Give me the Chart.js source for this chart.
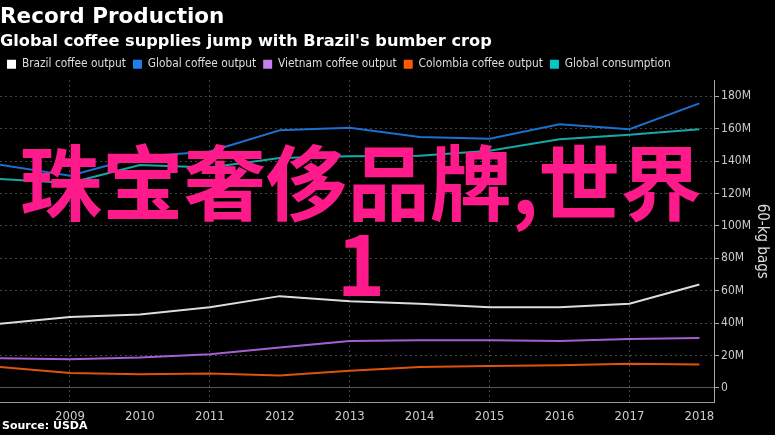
<!DOCTYPE html>
<html>
<head>
<meta charset="utf-8">
<script src="https://cdn.jsdelivr.net/npm/chart.js@4.4.0/dist/chart.umd.min.js"></script>
<style>
  body { margin: 0; background: #000; }
  #wrap { position: relative; width: 775px; height: 435px; overflow: hidden; background: #000; }
  #source { position: absolute; left: 2px; top: 419px; font: bold 11px "DejaVu Sans"; color: #fff; }
  #overlay {
    position: absolute; left: 0; top: 138px; width: 722px;
    text-align: center; color: #ff1a8c; pointer-events: none;
    font: bold 82px/82px "Noto Sans CJK SC";
  }
</style>
</head>
<body>
<div id="wrap">
  <canvas id="grafico" width="775" height="435"></canvas>
  <div id="source">Source: USDA</div>
  <div id="overlay">珠宝奢侈品牌,世界<br>1</div>
</div>
<script>
const anos = [2008, 2009, 2010, 2011, 2012, 2013, 2014, 2015, 2016, 2017, 2018];
const brasil = [39.6, 43.7, 45.2, 49.8, 56.6, 53.4, 51.9, 49.8, 49.8, 51.9, 63.8];
const global = [137.7, 130.9, 142.6, 145.9, 159.0, 160.6, 154.9, 153.7, 162.7, 159.6, 175.6];
const vietna = [18.3, 17.7, 18.7, 20.7, 24.9, 28.9, 29.4, 29.4, 28.9, 30.2, 30.8];
const colombia = [12.9, 9.2, 8.4, 8.8, 7.6, 10.5, 12.9, 13.5, 14.0, 14.8, 14.4];
const consumo = [128.9, 126.4, 137.5, 136.0, 141.8, 143.0, 143.2, 146.3, 153.5, 156.3, 159.6];

const anosTicks = [2009, 2010, 2011, 2012, 2013, 2014, 2015, 2016, 2017, 2018];
const yTicks = [0, 10, 20, 30, 40, 50, 60, 70, 80, 90, 100, 110, 120, 130, 140, 150, 160, 170, 180, 190];

const pontos = (valores) => valores.map((v, i) => ({ x: anos[i], y: v }));

const fonteCond = 'DejaVu Sans Condensed';

const serie = (nome, valores, cor, corLegenda) => ({
  label: nome,
  data: pontos(valores),
  borderColor: cor,
  backgroundColor: corLegenda,
  borderWidth: 2,
  pointRadius: 0,
  tension: 0
});

const ctx = document.getElementById('grafico').getContext('2d');
new Chart(ctx, {
  type: 'line',
  data: {
    datasets: [
      serie('Brazil coffee output', brasil, '#dcdcdc', '#ffffff'),
      serie('Global coffee output', global, '#1c6fcc', '#1e80ea'),
      serie('Vietnam coffee output', vietna, '#a45fd0', '#c77ff0'),
      serie('Colombia coffee output', colombia, '#e0520e', '#ff5a00'),
      serie('Global consumption', consumo, '#16a8a8', '#00c8c8')
    ]
  },
  options: {
    responsive: false,
    animation: false,
    layout: { padding: { left: 0, right: 2, top: 0, bottom: 9 } },
    plugins: {
      title: {
        display: true,
        text: 'Record Production',
        align: 'start',
        color: '#fff',
        font: { family: 'DejaVu Sans', size: 21.5, weight: 'bold' },
        padding: { top: 5, bottom: 1 }
      },
      subtitle: {
        display: true,
        text: "Global coffee supplies jump with Brazil's bumber crop",
        align: 'start',
        color: '#fff',
        font: { family: 'DejaVu Sans', size: 16.2, weight: 'bold' },
        padding: { top: 0, bottom: 0 }
      },
      legend: {
        align: 'start',
        labels: {
          color: '#ddd',
          boxWidth: 9,
          boxHeight: 9,
          padding: 7,
          font: { family: fonteCond, size: 11.8 },
          generateLabels: (chart) => chart.data.datasets.map((d, i) => ({
            text: d.label,
            fillStyle: d.backgroundColor,
            strokeStyle: d.backgroundColor,
            lineWidth: 0,
            fontColor: '#ddd',
            datasetIndex: i,
            hidden: false
          }))
        }
      },
      tooltip: { enabled: false }
    },
    scales: {
      x: {
        type: 'linear',
        min: 2008,
        max: 2018.21,
        afterBuildTicks: (s) => { s.ticks = anosTicks.map(v => ({ value: v })); },
        ticks: {
          color: '#ccc',
          font: { family: fonteCond, size: 13 },
          padding: 2,
          maxRotation: 0,
          callback: (v) => String(v)
        },
        grid: {
          color: (c) => c.tick && c.tick.value % 2 === 1 ? '#444' : 'rgba(0,0,0,0)',
          lineWidth: 1,
          tickColor: 'rgba(0,0,0,0)',
          tickLength: 4
        },
        border: { display: true, color: '#999', dash: [2, 3] }
      },
      y: {
        position: 'right',
        min: -9,
        max: 190,
        afterBuildTicks: (s) => { s.ticks = yTicks.map(v => ({ value: v })); },
        ticks: {
          color: '#ccc',
          font: { family: fonteCond, size: 12 },
          padding: 2,
          callback: (v) => v % 20 === 0 ? (v === 0 ? '0' : v + 'M') : ''
        },
        grid: {
          color: (c) => {
            if (!c.tick) return 'rgba(0,0,0,0)';
            if (c.tick.value === 0) return '#555';
            return c.tick.value % 20 === 0 ? '#444' : 'rgba(0,0,0,0)';
          },
          lineWidth: 1,
          tickColor: '#aaa',
          tickLength: 5
        },
        border: {
          display: true,
          color: '#aaa',
          dash: (c) => c.tick && c.tick.value === 0 ? [] : [2, 3]
        },
        title: {
          display: true,
          text: '60-kg bags',
          color: '#ddd',
          font: { family: fonteCond, size: 15 },
          padding: { top: 2, bottom: 0 }
        }
      }
    }
  }
});
</script>
</body>
</html>
